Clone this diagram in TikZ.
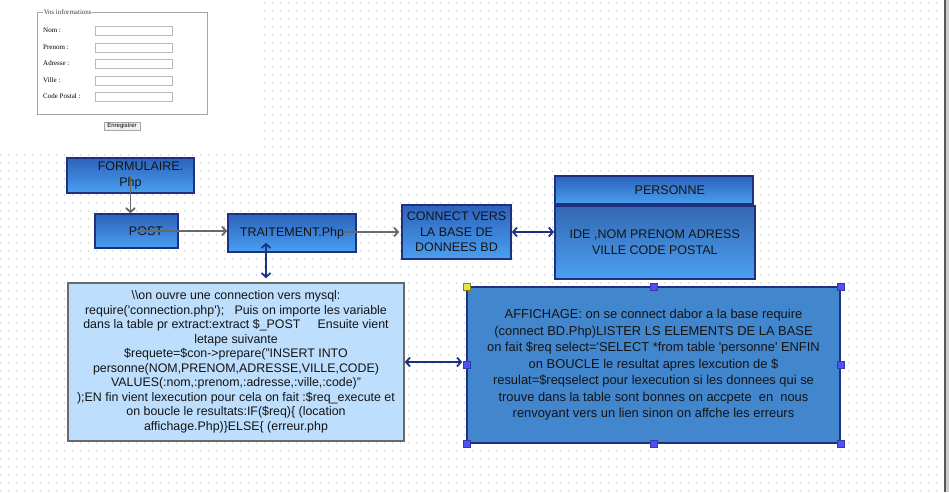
\documentclass[tikz,border=0pt]{standalone}
\usepackage{fontspec}
\setmainfont{Liberation Sans}
\newfontfamily\formfont{Liberation Serif}
\usetikzlibrary{arrows.meta,positioning,calc}

\definecolor{boxtop}{RGB}{44,98,188}
\definecolor{boxbottom}{RGB}{74,160,240}
\definecolor{entitytop}{RGB}{52,104,178}
\definecolor{navy}{RGB}{30,48,128}
\definecolor{codefill}{RGB}{189,222,252}
\definecolor{showfill}{RGB}{66,134,206}
\definecolor{handleblue}{RGB}{80,80,245}
\definecolor{handleyellow}{RGB}{226,226,90}
\definecolor{greyline}{RGB}{105,105,105}
\definecolor{dotgrey}{RGB}{215,215,215}
\definecolor{textblack}{RGB}{20,20,20}

\begin{document}
\begin{tikzpicture}[x=1pt, y=-1pt,
    phpbox/.style={draw=navy, line width=1.6pt, top color=boxtop, bottom color=boxbottom,
        inner sep=0pt, align=center, text=textblack, font=\fontsize{12.5}{15.5}\selectfont},
    entitybody/.style={phpbox, top color=entitytop},
    codebox/.style={draw=greyline, line width=1.6pt, fill=codefill, inner sep=0pt,
        align=center, text=textblack, font=\fontsize{12.4}{14.5}\selectfont},
    showbox/.style={draw=navy, line width=1.6pt, fill=showfill, inner sep=0pt,
        align=center, text=textblack, font=\fontsize{12.9}{16.5}\selectfont},
    greyarrow/.style={draw=greyline, line width=1.8pt, -{Straight Barb[length=4pt,width=9pt]}},
    navyarrow/.style={draw=navy, line width=1.8pt,
        {Straight Barb[length=4pt,width=9pt]}-{Straight Barb[length=4pt,width=9pt]}},
    handle/.style={fill=handleblue, draw=handleblue!70!black, line width=0.3pt},
    griddot/.style={draw=dotgrey, line width=1pt, dash pattern=on 2pt off 6pt},
    formtext/.style={inner sep=0pt, font=\formfont\fontsize{7}{8}\selectfont},
    inputbox/.style={draw=gray!55, line width=0.6pt, minimum width=77pt, minimum height=9pt, inner sep=0pt}
]
    % page
    \fill[white] (0,0) rectangle (949,492);
    \useasboundingbox (0,0) rectangle (949,492);

    % dotted grid
    \foreach \gx in {0,8,...,936}{
        \pgfmathsetmacro{\gtop}{\gx<264 ? 153.7 : 1.7}
        \draw[griddot] (\gx,\gtop) -- (\gx,492);
    }

    % form screenshot
    \draw[draw=gray!70, line width=0.8pt] (37,12) rectangle (207,114);
    \node[formtext, fill=white, anchor=west, inner sep=0.6pt, text=black!75] (legende) at (43,12) {Vos informations};
    \foreach \lbl/\ly [count=\i] in {Nom :/30.5, Prenom :/47.5, Adresse :/63.5, Ville :/80.5, Code Postal :/96.5}{
        \node[formtext, anchor=west] (label\i) at (43,\ly) {\lbl};
        \node[inputbox] (champ\i) at (133.5,\ly) {};
    }
    \node[draw=gray!70, fill=gray!12, minimum width=36pt, minimum height=8.5pt, inner sep=0pt,
        font=\fontsize{6}{7}\selectfont] (enregistrer) at (122,126) {Enregistrer};

    % flow boxes
    \node[phpbox, minimum width=127pt, minimum height=35pt] (formulaire) at (130.5,175.5) {\hspace*{20pt}FORMULAIRE.\\Php};
    \node[phpbox, minimum width=83pt, minimum height=34pt] (post) at (136.5,231) {\hspace*{19pt}POST};
    \node[phpbox, minimum width=128pt, minimum height=38pt] (traitement) at (292,233) {TRAITEMENT.Php};
    \node[phpbox, minimum width=109pt, minimum height=54pt] (connect) at (456.5,232) {CONNECT VERS\\LA BASE DE\\DONNEES BD};

    % table personne
    \node[entitybody, minimum width=200pt, minimum height=73pt, anchor=north west] (attributs) at (554,205) {IDE ,NOM PRENOM ADRESS\\VILLE CODE POSTAL};
    \node[phpbox, minimum width=198pt, minimum height=28pt, anchor=south west] (personne) at (attributs.north west) {\hspace*{32pt}PERSONNE};

    % explanations
    \node[codebox, minimum width=336pt, minimum height=158pt] (requete) at (236,362) {%
        \textbackslash\textbackslash on ouvre une connection vers mysql:\\
        require(\textquotesingle connection.php\textquotesingle);\ \ \ Puis on importe les variable\\
        dans la table pr extract:extract \$\_POST\ \ \ \ \ Ensuite vient\\
        letape suivante\hspace*{42pt}\\
        \$requete=\$con->prepare("INSERT INTO\\
        personne(NOM,PRENOM,ADRESSE,VILLE,CODE)\\
        VALUES(:nom,:prenom,:adresse,:ville,:code)"\\
        );EN fin vient lexecution pour cela on fait :\$req\_execute et\\
        on boucle le resultats:IF(\$req)\{ (location\\
        affichage.Php)\}ELSE\{ (erreur.php};
    \node[showbox, minimum width=373pt, minimum height=156pt] (affichage) at (653.5,365) {%
        AFFICHAGE: on se connect dabor a la base require\\
        (connect BD.Php)LISTER LS ELEMENTS DE LA BASE\\
        on fait \$req select=\textquotesingle SELECT *from table \textquotesingle personne\textquotesingle{} ENFIN\\
        on BOUCLE le resultat apres lexcution de \$\\
        resulat=\$reqselect pour lexecution si les donnees qui se\\
        trouve dans la table sont bonnes on accpete\ \ en\ \ nous\\
        renvoyant vers un lien sinon on affche les erreurs};

    % connectors
    \draw[greyarrow] (formulaire.center) -- (formulaire.center |- post.north);
    \draw[greyarrow] (post.center) -- (post.center -| traitement.west);
    \draw[greyarrow] ($(traitement.east)+(-14,-1)$) -- ($(connect.west)+(-2,0)$);
    \draw[navyarrow] (connect.east) -- (connect.east -| attributs.west);
    \draw[navyarrow] ($(traitement.south)+(-26,-10)$) -- ($(requete.north)+(30,-4)$);
    \draw[navyarrow] (requete.east) -- ($(requete.east -| affichage.west)+(-4,0)$);

    % selection handles
    \foreach \corner in {north,north east,east,south east,south,south west,west}
        \fill[handle] ($(affichage.\corner)+(-3.5,-3.5)$) rectangle ++(7,7);
    \fill[handle, fill=handleyellow, draw=olive] ($(affichage.north west)+(-3.5,-3.5)$) rectangle ++(7,7);

    % window edge
    \fill[gray!40] (945,0) rectangle (949,492);
    \draw[line width=1.4pt, gray!70!black] (945,0) -- (945,492);
\end{tikzpicture}
\end{document}
